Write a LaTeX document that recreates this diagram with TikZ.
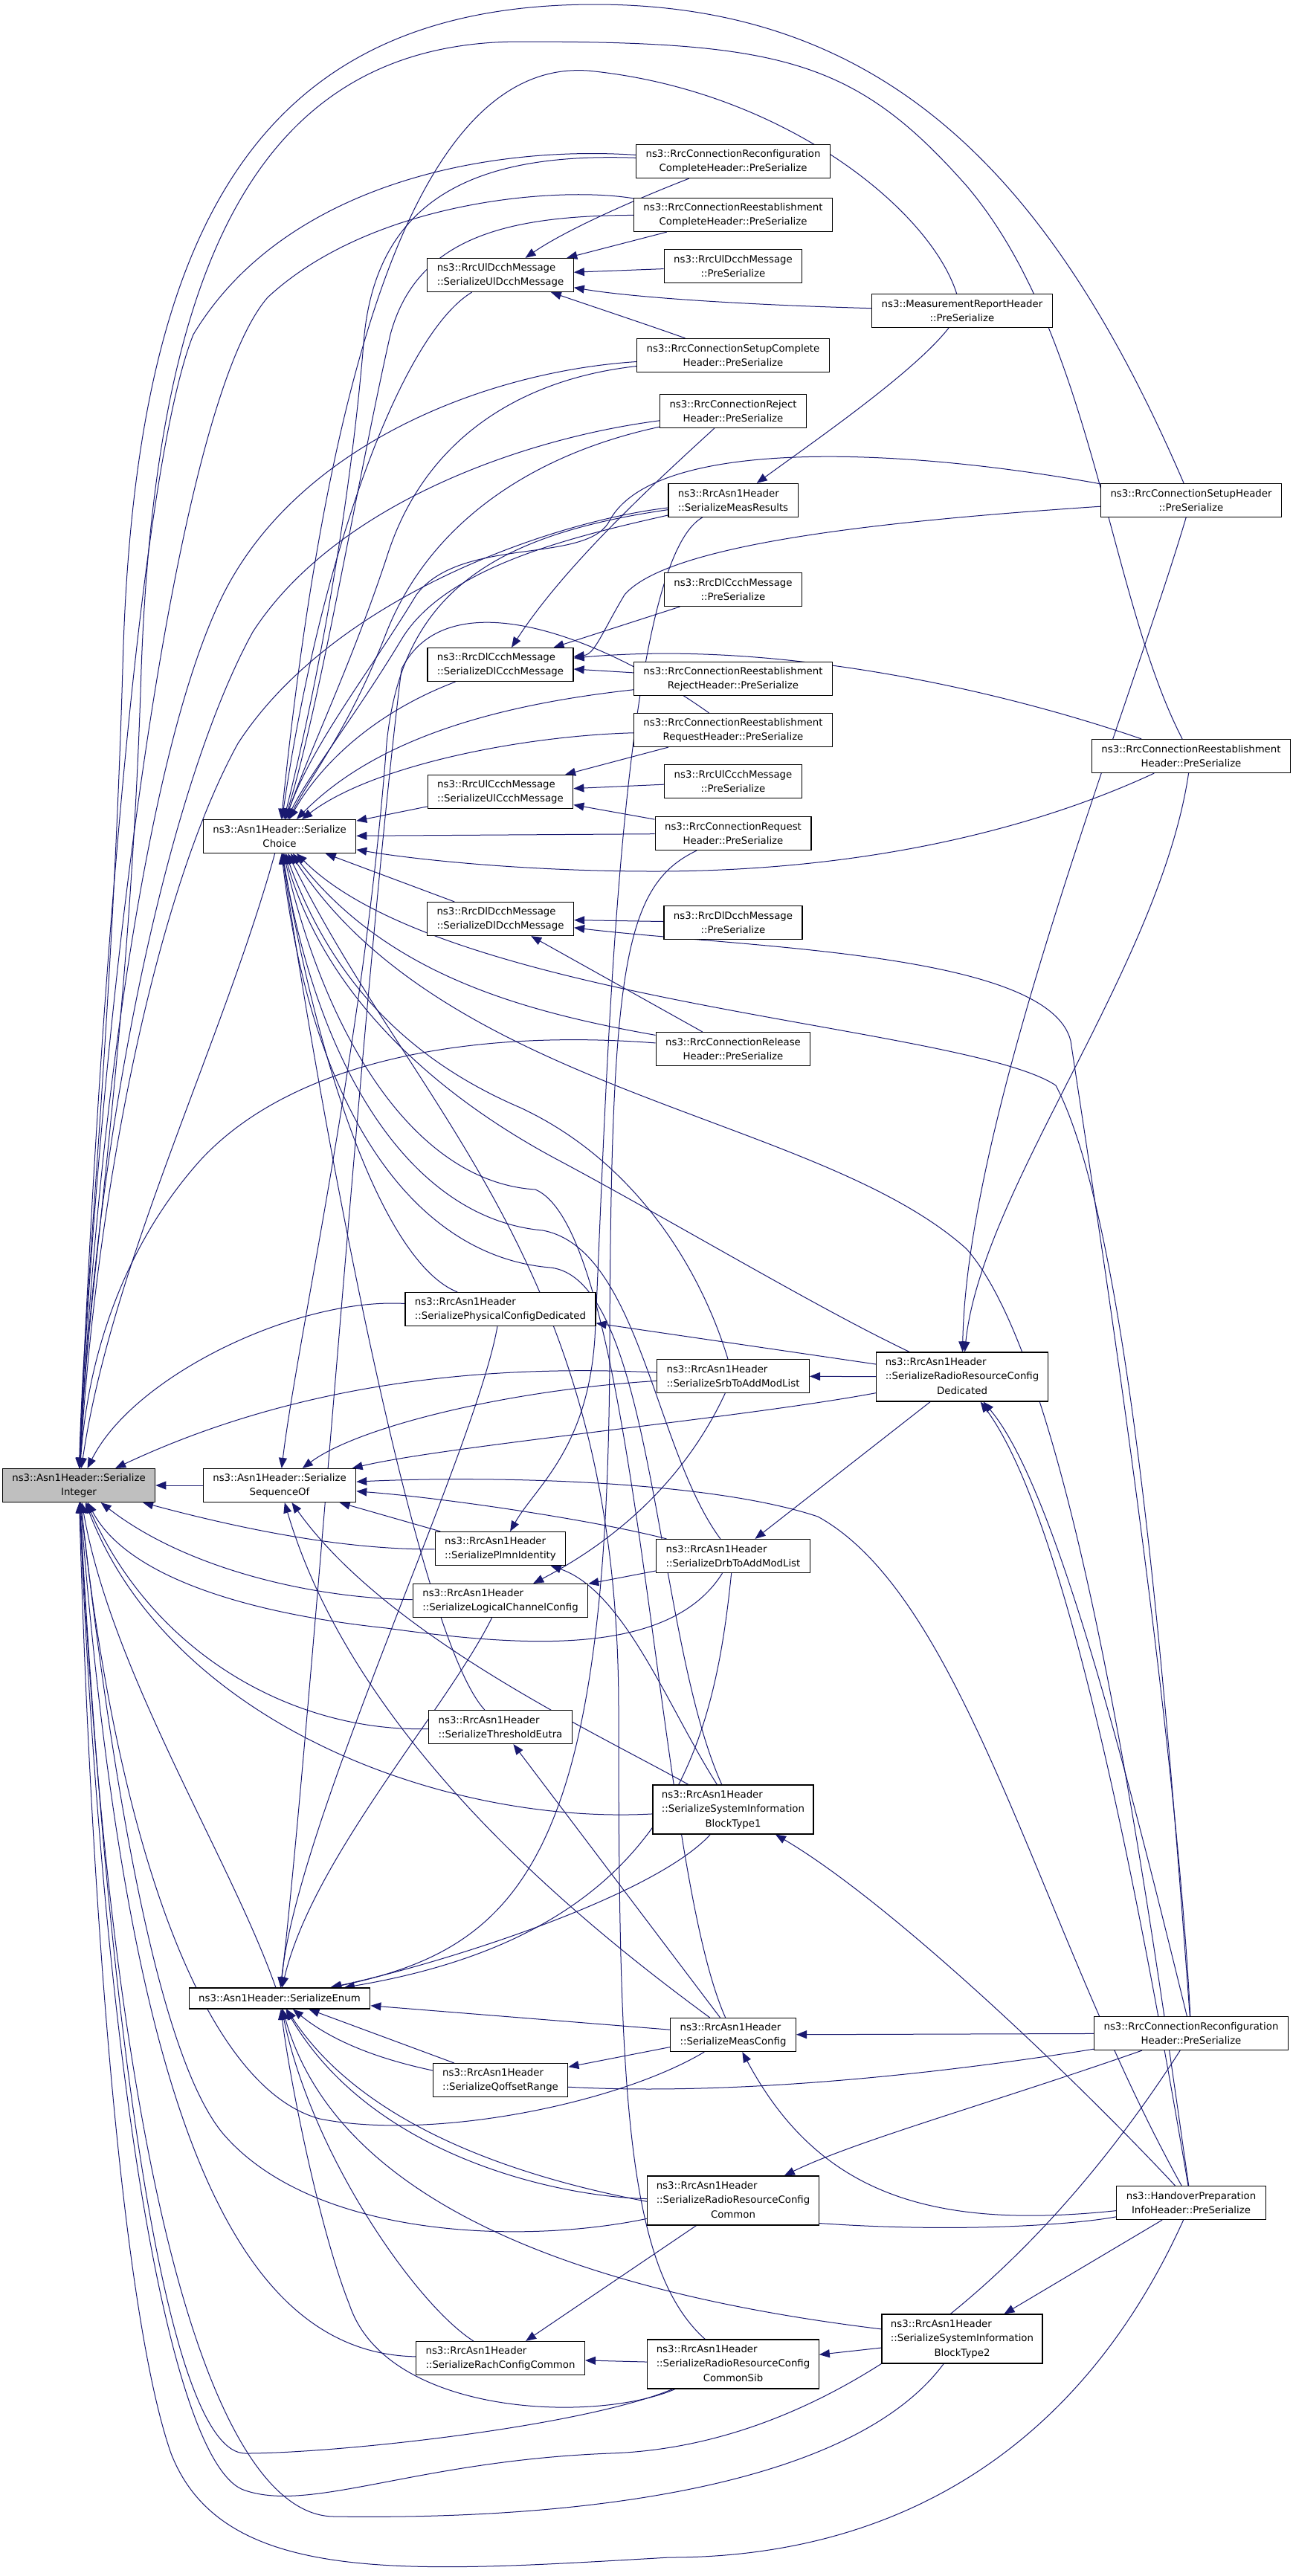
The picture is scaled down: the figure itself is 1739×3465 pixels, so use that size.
\documentclass[tikz,border=0pt]{standalone}
\usepackage{fontspec}
\newfontfamily\dvsans{DejaVu Sans}
\usetikzlibrary{arrows.meta,backgrounds}
\definecolor{edgeblue}{RGB}{25,25,112}
\definecolor{boxgray}{RGB}{191,191,191}
\newcommand{\threeline}[3]{\begin{tabular}{@{}l@{}}#1\\#2\\\multicolumn{1}{@{}c@{}}{#3}\end{tabular}}

\begin{document}
\begin{tikzpicture}[x=0.5pt, y=-0.5pt,
    fn/.style={draw=black, line width=0.6pt, fill=white, align=center, inner xsep=6.5pt, inner ysep=2pt, minimum height=22.5pt, font=\dvsans\fontsize{6.65}{9.65}\selectfont},
    fnl/.style={fn, align=left},
    fn3/.style={fn, minimum height=31.5pt, inner xsep=6pt},
    call/.style={draw=edgeblue, line width=0.5pt, -{Triangle[length=7pt,width=5.5pt]}}]
  \useasboundingbox (0,0) rectangle (1739,3465);

  % first column: the Asn1Header helpers
  \node[fn, fill=boxgray] (int) at (106,1998) {ns3::Asn1Header::Serialize\\Integer};
  \node[fn] (seqof) at (376,1998) {ns3::Asn1Header::Serialize\\SequenceOf};
  \node[fn] (choice) at (376,1125) {ns3::Asn1Header::Serialize\\Choice};
  \node[fn, minimum height=14pt] (enum) at (376,2688) {ns3::Asn1Header::SerializeEnum};

  % second column
  \node[fnl] (ulDcchSer) at (673,370) {ns3::RrcUlDcchMessage\\::SerializeUlDcchMessage};
  \node[fnl] (dlCcchSer) at (673,894) {ns3::RrcDlCcchMessage\\::SerializeDlCcchMessage};
  \node[fnl] (ulCcchSer) at (673,1065) {ns3::RrcUlCcchMessage\\::SerializeUlCcchMessage};
  \node[fnl] (dlDcchSer) at (673,1236) {ns3::RrcDlDcchMessage\\::SerializeDlDcchMessage};
  \node[fnl] (physCfg) at (673,1761) {ns3::RrcAsn1Header\\::SerializePhysicalConfigDedicated};
  \node[fnl] (plmn) at (673,2083) {ns3::RrcAsn1Header\\::SerializePlmnIdentity};
  \node[fnl] (lcCfg) at (673,2153) {ns3::RrcAsn1Header\\::SerializeLogicalChannelConfig};
  \node[fnl] (thresh) at (673,2323) {ns3::RrcAsn1Header\\::SerializeThresholdEutra};
  \node[fnl] (qoff) at (673,2798) {ns3::RrcAsn1Header\\::SerializeQoffsetRange};
  \node[fnl] (rach) at (673,3172) {ns3::RrcAsn1Header\\::SerializeRachConfigCommon};

  % third column
  \node[fn] (reconfCompl) at (986,217) {ns3::RrcConnectionReconfiguration\\CompleteHeader::PreSerialize};
  \node[fn] (reestCompl) at (986,289) {ns3::RrcConnectionReestablishment\\CompleteHeader::PreSerialize};
  \node[fn] (ulDcchPre) at (986,358) {ns3::RrcUlDcchMessage\\::PreSerialize};
  \node[fn] (setupCompl) at (986,478) {ns3::RrcConnectionSetupComplete\\Header::PreSerialize};
  \node[fn] (reject) at (986,553) {ns3::RrcConnectionReject\\Header::PreSerialize};
  \node[fnl] (measRes) at (986,673) {ns3::RrcAsn1Header\\::SerializeMeasResults};
  \node[fn] (dlCcchPre) at (986,793) {ns3::RrcDlCcchMessage\\::PreSerialize};
  \node[fn] (reestReject) at (986,913) {ns3::RrcConnectionReestablishment\\RejectHeader::PreSerialize};
  \node[fn] (reestRequest) at (986,982) {ns3::RrcConnectionReestablishment\\RequestHeader::PreSerialize};
  \node[fn] (ulCcchPre) at (986,1051) {ns3::RrcUlCcchMessage\\::PreSerialize};
  \node[fn] (request) at (986,1121) {ns3::RrcConnectionRequest\\Header::PreSerialize};
  \node[fn] (dlDcchPre) at (986,1241) {ns3::RrcDlDcchMessage\\::PreSerialize};
  \node[fn] (release) at (986,1411) {ns3::RrcConnectionRelease\\Header::PreSerialize};
  \node[fnl] (srb) at (986,1851) {ns3::RrcAsn1Header\\::SerializeSrbToAddModList};
  \node[fnl] (drb) at (986,2093) {ns3::RrcAsn1Header\\::SerializeDrbToAddModList};
  \node[fn3] (sib1) at (986,2434) {\threeline{ns3::RrcAsn1Header}{::SerializeSystemInformation}{BlockType1}};
  \node[fnl] (measCfg) at (986,2737) {ns3::RrcAsn1Header\\::SerializeMeasConfig};
  \node[fn3] (rrcCommon) at (986,2960) {\threeline{ns3::RrcAsn1Header}{::SerializeRadioResourceConfig}{Common}};
  \node[fn3] (rrcCommonSib) at (986,3180) {\threeline{ns3::RrcAsn1Header}{::SerializeRadioResourceConfig}{CommonSib}};

  % fourth column
  \node[fn] (measRep) at (1294,418) {ns3::MeasurementReportHeader\\::PreSerialize};
  \node[fn3] (rrcDed) at (1294,1852) {\threeline{ns3::RrcAsn1Header}{::SerializeRadioResourceConfig}{Dedicated}};
  \node[fn3] (sib2) at (1294,3146) {\threeline{ns3::RrcAsn1Header}{::SerializeSystemInformation}{BlockType2}};

  % fifth column
  \node[fn] (setup) at (1602,673) {ns3::RrcConnectionSetupHeader\\::PreSerialize};
  \node[fn] (reest) at (1602,1017) {ns3::RrcConnectionReestablishment\\Header::PreSerialize};
  \node[fn] (reconf) at (1602,2735) {ns3::RrcConnectionReconfiguration\\Header::PreSerialize};
  \node[fn] (handover) at (1602,2963) {ns3::HandoverPreparation\\InfoHeader::PreSerialize};

  \begin{scope}[on background layer]
    % callers of SerializeInteger
    \draw[call] (seqof) -- (int);
    \draw[call] (choice) .. controls (300,1400) and (150,1700) .. (int);
    \draw[call] (enum) .. controls (310,2500) and (150,2250) .. (int);
    \draw[call] (srb) .. controls (650,1835) and (400,1860) .. (int);
    \draw[call] (plmn) .. controls (450,2085) and (300,2050) .. (int);
    \draw[call] (lcCfg) .. controls (420,2150) and (250,2110) .. (int);
    \draw[call] (drb) .. controls (900,2230) and (700,2215) .. (520,2190) .. controls (330,2170) and (170,2120) .. (int);
    \draw[call] (thresh) .. controls (400,2330) and (210,2230) .. (int);
    \draw[call] (sib1) .. controls (600,2455) and (230,2320) .. (int);
    \draw[call] (physCfg) .. controls (400,1745) and (180,1850) .. (int);
    \draw[call] (rach) .. controls (300,3165) and (170,2800) .. (int);
    \draw[call] (rrcCommonSib) .. controls (780,3265) and (450,3300) .. (330,3300) .. controls (230,3300) and (150,2800) .. (int);
    \draw[call] (reconf) .. controls (1400,3050) and (1130,3290) .. (820,3300) .. controls (560,3310) and (420,3380) .. (330,3350) .. controls (230,3320) and (140,2800) .. (int);
    \draw[call] (sib2) .. controls (1150,3340) and (800,3390) .. (450,3385) .. controls (280,3385) and (150,2900) .. (int);
    \draw[call] (handover) .. controls (1450,3300) and (1200,3440) .. (900,3440) .. controls (550,3460) and (300,3480) .. (230,3300) .. controls (160,3100) and (120,2500) .. (int);
    \draw[call] (rrcCommon) .. controls (700,3020) and (420,3010) .. (300,2870) .. controls (200,2750) and (140,2300) .. (int);
    \draw[call] (measCfg) .. controls (830,2830) and (580,2880) .. (430,2850) .. controls (280,2810) and (160,2500) .. (int);
    \draw[call] (setup) .. controls (1420,250) and (1200,6) .. (800,6) .. controls (350,6) and (180,300) .. (165,900) .. controls (150,1400) and (112,1750) .. (int);
    \draw[call] (reest) .. controls (1490,800) and (1470,450) .. (1300,250) .. controls (1150,80) and (1050,56) .. (700,56) .. controls (350,56) and (210,350) .. (190,900) .. controls (175,1400) and (115,1750) .. (int);
    \draw[call] (reconfCompl) .. controls (650,195) and (380,250) .. (260,450) .. controls (180,650) and (125,1500) .. (int);
    \draw[call] (reestCompl) .. controls (750,250) and (500,270) .. (360,400) .. controls (230,550) and (130,1400) .. (int);
    \draw[call] (setupCompl) .. controls (650,500) and (400,600) .. (300,800) .. controls (200,1000) and (130,1500) .. (int);
    \draw[call] (reject) .. controls (700,590) and (450,680) .. (340,850) .. controls (230,1050) and (130,1500) .. (int);
    \draw[call] (measRes) .. controls (750,700) and (450,800) .. (320,1000) .. controls (210,1200) and (130,1600) .. (int);
    \draw[call] (release) .. controls (650,1385) and (400,1420) .. (270,1560) .. controls (180,1660) and (120,1800) .. (int);

    % callers of SerializeChoice, from above
    \draw[call] (ulDcchSer) .. controls (540,450) and (430,750) .. (choice);
    \draw[call] (dlCcchSer) .. controls (500,960) and (430,1030) .. (choice);
    \draw[call] (ulCcchSer) -- (choice);
    \draw[call] (request) -- (choice);
    \draw[call] (reest) .. controls (1380,1120) and (1150,1172) .. (880,1172) .. controls (700,1172) and (550,1155) .. (choice);
    \draw[call] (measRep) .. controls (1250,280) and (1050,120) .. (790,95) .. controls (560,80) and (440,500) .. (choice);
    \draw[call] (reconfCompl) .. controls (650,205) and (510,260) .. (490,450) .. controls (470,700) and (420,950) .. (choice);
    \draw[call] (reestCompl) .. controls (680,290) and (560,320) .. (525,450) .. controls (480,650) and (430,950) .. (choice);
    \draw[call] (setupCompl) .. controls (700,510) and (570,590) .. (520,750) .. controls (470,900) and (420,1000) .. (choice);
    \draw[call] (reject) .. controls (720,610) and (580,700) .. (520,850) .. controls (470,980) and (420,1040) .. (choice);
    \draw[call] (measRes) .. controls (780,720) and (600,760) .. (540,860) .. controls (480,960) and (410,1050) .. (choice);
    \draw[call] (reestReject) .. controls (650,950) and (500,1000) .. (choice);
    \draw[call] (reestRequest) .. controls (700,990) and (500,1030) .. (choice);
    \draw[call] (setup) .. controls (1200,600) and (880,590) .. (820,700) .. controls (790,760) and (620,720) .. (560,800) .. controls (500,900) and (420,1000) .. (choice);
    % callers of SerializeChoice, from below
    \draw[call] (dlDcchSer) -- (choice);
    \draw[call] (release) .. controls (700,1360) and (520,1310) .. (choice);
    \draw[call] (physCfg) .. controls (520,1700) and (430,1450) .. (choice);
    \draw[call] (srb) .. controls (940,1700) and (850,1560) .. (700,1490) .. controls (560,1430) and (450,1330) .. (choice);
    \draw[call] (drb) .. controls (880,1950) and (860,1680) .. (730,1655) .. controls (560,1640) and (430,1450) .. (choice);
    \draw[call] (sib1) .. controls (880,2200) and (880,1720) .. (740,1705) .. controls (560,1690) and (420,1500) .. (choice);
    \draw[call] (measCfg) .. controls (880,2500) and (860,1660) .. (720,1600) .. controls (560,1590) and (440,1400) .. (choice);
    \draw[call] (thresh) .. controls (560,2200) and (430,1500) .. (choice);
    \draw[call] (rrcDed) .. controls (1100,1760) and (900,1640) .. (750,1560) .. controls (600,1480) and (440,1350) .. (choice);
    \draw[call] (reconf) .. controls (1570,2300) and (1520,1650) .. (1420,1460) .. controls (1300,1380) and (600,1350) .. (choice);
    \draw[call] (handover) .. controls (1550,2600) and (1450,1850) .. (1300,1680) .. controls (1100,1500) and (600,1470) .. (choice);
    \draw[call] (rrcCommonSib) .. controls (840,3050) and (832,2800) .. (832,2300) .. controls (832,1700) and (560,1500) .. (choice);

    % callers of SerializeSequenceOf
    \draw[call] (srb) .. controls (680,1870) and (480,1920) .. (seqof);
    \draw[call] (rrcDed) .. controls (1000,1907) and (600,1945) .. (seqof);
    \draw[call] (drb) .. controls (800,2045) and (600,2015) .. (seqof);
    \draw[call] (plmn) -- (seqof);
    \draw[call] (measCfg) .. controls (800,2600) and (480,2350) .. (seqof);
    \draw[call] (sib1) .. controls (800,2330) and (520,2200) .. (seqof);
    \draw[call] (handover) .. controls (1400,2600) and (1300,2150) .. (1100,2040) .. controls (950,1990) and (650,1985) .. (seqof);
    \draw[call] (measRes) .. controls (660,720) and (540,800) .. (520,1000) .. controls (490,1400) and (400,1800) .. (seqof);

    % callers of SerializeEnum
    \draw[call] (measCfg) -- (enum);
    \draw[call] (qoff) -- (enum);
    \draw[call] (lcCfg) .. controls (600,2300) and (420,2500) .. (enum);
    \draw[call] (physCfg) .. controls (640,1950) and (400,2450) .. (enum);
    \draw[call] (rach) .. controls (560,3100) and (420,2900) .. (enum);
    \draw[call] (rrcCommon) .. controls (750,2955) and (500,2900) .. (enum);
    \draw[call] (rrcCommonSib) .. controls (800,3260) and (520,3250) .. (470,3100) .. controls (430,3000) and (390,2800) .. (enum);
    \draw[call] (sib2) .. controls (750,3080) and (450,2950) .. (enum);
    \draw[call] (reconf) .. controls (1200,2800) and (600,2870) .. (enum);
    \draw[call] (handover) .. controls (1350,3010) and (600,3030) .. (enum);
    \draw[call] (sib1) .. controls (880,2550) and (600,2640) .. (enum);
    \draw[call] (drb) .. controls (960,2350) and (900,2600) .. (enum);
    \draw[call] (request) .. controls (840,1190) and (822,1300) .. (820,1800) .. controls (820,2500) and (700,2620) .. (enum);
    \draw[call] (reestRequest) .. controls (800,850) and (600,780) .. (540,900) .. controls (490,1300) and (420,2300) .. (enum);

    % message serializers and the rest
    \draw[call] (reconfCompl) .. controls (850,270) and (760,310) .. (ulDcchSer);
    \draw[call] (reestCompl) -- (ulDcchSer);
    \draw[call] (ulDcchPre) -- (ulDcchSer);
    \draw[call] (measRep) .. controls (1000,410) and (850,400) .. (ulDcchSer);
    \draw[call] (setupCompl) .. controls (880,440) and (820,420) .. (ulDcchSer);
    \draw[call] (measRep) .. controls (1230,500) and (1100,590) .. (measRes);
    \draw[call] (reject) .. controls (880,650) and (760,760) .. (dlCcchSer);
    \draw[call] (dlCcchPre) -- (dlCcchSer);
    \draw[call] (reestReject) -- (dlCcchSer);
    \draw[call] (setup) .. controls (1200,700) and (900,730) .. (840,800) .. controls (810,850) and (800,880) .. (dlCcchSer);
    \draw[call] (reest) .. controls (1350,930) and (1050,860) .. (dlCcchSer);
    \draw[call] (reestRequest) -- (ulCcchSer);
    \draw[call] (ulCcchPre) -- (ulCcchSer);
    \draw[call] (request) -- (ulCcchSer);
    \draw[call] (dlDcchPre) -- (dlDcchSer);
    \draw[call] (release) -- (dlDcchSer);
    \draw[call] (reconf) .. controls (1580,2300) and (1470,1600) .. (1440,1400) .. controls (1410,1280) and (1000,1275) .. (dlDcchSer);
    \draw[call] (rrcDed) -- (srb);
    \draw[call] (rrcDed) -- (physCfg);
    \draw[call] (rrcDed) -- (drb);
    \draw[call] (srb) .. controls (940,1950) and (870,2050) .. (lcCfg);
    \draw[call] (drb) -- (lcCfg);
    \draw[call] (setup) .. controls (1520,950) and (1300,1500) .. (rrcDed);
    \draw[call] (reest) .. controls (1560,1300) and (1320,1600) .. (rrcDed);
    \draw[call] (reconf) .. controls (1520,2400) and (1420,2000) .. (rrcDed);
    \draw[call] (handover) .. controls (1540,2600) and (1440,2050) .. (rrcDed);
    \draw[call] (sib1) .. controls (900,2300) and (840,2140) .. (plmn);
    \draw[call] (measRes) .. controls (830,760) and (815,1500) .. (800,1800) .. controls (790,1950) and (720,2000) .. (plmn);
    \draw[call] (measCfg) -- (thresh);
    \draw[call] (measCfg) -- (qoff);
    \draw[call] (reconf) -- (measCfg);
    \draw[call] (handover) .. controls (1250,3000) and (1100,2950) .. (measCfg);
    \draw[call] (reconf) .. controls (1330,2830) and (1150,2880) .. (rrcCommon);
    \draw[call] (rrcCommon) -- (rach);
    \draw[call] (rrcCommonSib) -- (rach);
    \draw[call] (sib2) -- (rrcCommonSib);
    \draw[call] (handover) -- (sib2);
    \draw[call] (handover) .. controls (1450,2800) and (1200,2560) .. (sib1);
  \end{scope}
\end{tikzpicture}
\end{document}
